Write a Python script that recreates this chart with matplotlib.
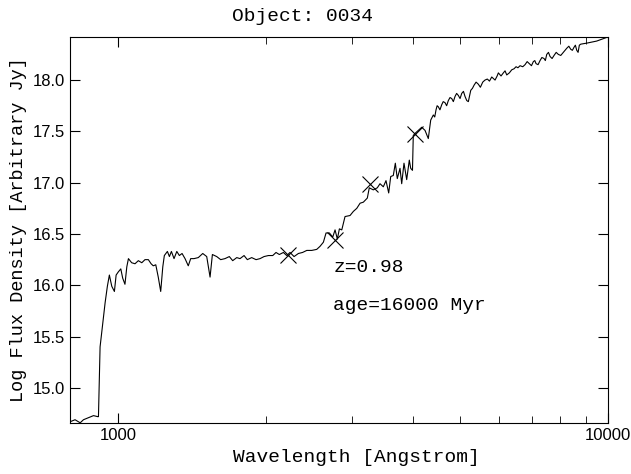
import numpy as np
import matplotlib.pyplot as plt
from matplotlib.ticker import FixedLocator, NullFormatter, FixedFormatter

# spectrum: wavelength [A], log flux density
wave = [798, 817, 837, 850, 870, 891, 909, 912, 919, 929, 941, 951, 960, 971, 983, 991,
        1001, 1013, 1022, 1033, 1042, 1050, 1066, 1083, 1100, 1118, 1135, 1153, 1168, 1180,
        1194, 1208, 1222, 1234, 1243, 1261, 1273, 1285, 1301, 1318, 1334, 1351, 1370, 1391,
        1407, 1429, 1458, 1489, 1517, 1541, 1558, 1590, 1620, 1653, 1687, 1714, 1747, 1774,
        1808, 1836, 1874, 1913, 1949, 1986, 2027, 2069, 2101, 2134, 2175, 2210, 2244, 2287,
        2334, 2380, 2428, 2485, 2544, 2584, 2625, 2658, 2700, 2743, 2773, 2803, 2830, 2862,
        2906, 2975, 3022, 3071, 3119, 3167, 3227, 3257, 3319, 3382, 3425, 3479, 3523, 3568,
        3602, 3646, 3681, 3715, 3763, 3793, 3834, 3883, 3931, 3957, 3990, 4005, 4038, 4101,
        4167, 4232, 4298, 4347, 4401, 4457, 4505, 4578, 4649, 4722, 4798, 4873, 4950, 5029,
        5108, 5188, 5247, 5329, 5437, 5551, 5672, 5791, 5882, 5974, 6116, 6214, 6362, 6492,
        6615, 6772, 6910, 7042, 7132, 7267, 7405, 7499, 7617, 7761, 7920, 8108, 8239, 8395,
        8526, 8635, 8741, 9051, 9483, 10000]
logflux = [14.67, 14.69, 14.66, 14.69, 14.71, 14.73, 14.72, 14.72, 15.40, 15.60, 15.83, 15.99,
           16.10, 15.99, 15.94, 16.10, 16.13, 16.16, 16.07, 16.01, 16.18, 16.26, 16.22, 16.21,
           16.24, 16.22, 16.25, 16.25, 16.21, 16.19, 16.20, 16.08, 15.94, 16.18, 16.29, 16.33,
           16.28, 16.33, 16.26, 16.33, 16.29, 16.31, 16.26, 16.19, 16.26, 16.26, 16.27, 16.31,
           16.28, 16.08, 16.30, 16.28, 16.25, 16.26, 16.28, 16.24, 16.27, 16.26, 16.29, 16.25,
           16.27, 16.25, 16.26, 16.28, 16.29, 16.29, 16.32, 16.30, 16.32, 16.29, 16.32, 16.28,
           16.31, 16.32, 16.34, 16.34, 16.35, 16.38, 16.42, 16.51, 16.51, 16.47, 16.54, 16.45,
           16.55, 16.54, 16.67, 16.68, 16.72, 16.75, 16.80, 16.81, 16.85, 16.95, 16.93, 16.95,
           16.99, 16.96, 17.02, 16.90, 17.06, 17.07, 17.19, 17.04, 17.14, 16.99, 17.19, 17.03,
           17.22, 17.14, 17.12, 17.46, 17.48, 17.51, 17.54, 17.51, 17.43, 17.61, 17.66, 17.71,
           17.74, 17.76, 17.78, 17.80, 17.82, 17.84, 17.85, 17.87, 17.84, 17.79, 17.90, 17.95,
           17.96, 17.98, 18.01, 18.03, 18.00, 18.07, 18.07, 18.05, 18.10, 18.13, 18.14, 18.15,
           18.16, 18.18, 18.16, 18.19, 18.21, 18.25, 18.23, 18.24, 18.25, 18.27, 18.31, 18.30,
           18.32, 18.29, 18.34, 18.36, 18.38, 18.42]

# extra wiggles of the noisy red part
wave_noise = [4430, 4480, 4540, 4610, 4685, 4760, 4835, 4910, 4990, 5070, 5150, 5290, 5380,
              5490, 5610, 5730, 5940, 6050, 6165, 6290, 6430, 6550, 6700, 6840, 6980, 7090,
              7200, 7330, 7450, 7560, 7690, 7840, 8010, 8170, 8320, 8460, 8580, 8690, 8800]
flux_noise = [17.64, 17.75, 17.71, 17.79, 17.75, 17.83, 17.79, 17.87, 17.82, 17.89, 17.80,
              17.92, 17.98, 17.93, 18.00, 17.99, 18.04, 18.04, 18.09, 18.07, 18.11, 18.12,
              18.13, 18.18, 18.14, 18.19, 18.15, 18.22, 18.19, 18.27, 18.21, 18.27, 18.24,
              18.29, 18.33, 18.29, 18.34, 18.27, 18.35]

# photometry points (crosses)
phot_wave = [2223, 2773, 3267, 4036]
phot_flux = [16.30, 16.44, 16.99, 17.47]

obj_name = "0034"
redshift = 0.98
age = 16000

mono = "Liberation Mono"
sans = "Liberation Sans"

spec = sorted(zip(wave + wave_noise, logflux + flux_noise))
spec_w = [p[0] for p in spec]
spec_f = [p[1] for p in spec]

fig = plt.figure(figsize=(6.31, 4.74), dpi=100)
ax = fig.add_axes([0.111, 0.108, 0.8525, 0.814])

ax.plot(spec_w, spec_f, color="black", lw=0.8)
ax.plot(phot_wave, phot_flux, ls="none", marker="x", ms=12, mew=0.8, color="black")

ax.set_xscale("log")
ax.set_xlim(798, 10000)
ax.set_ylim(14.66, 18.42)

ax.xaxis.set_major_locator(FixedLocator([1000, 10000]))
ax.xaxis.set_major_formatter(FixedFormatter(["1000", "10000"]))
ax.xaxis.set_minor_locator(FixedLocator([2000, 3000, 4000, 5000, 6000, 7000, 8000, 9000]))
ax.xaxis.set_minor_formatter(NullFormatter())
ax.set_yticks([15.0, 15.5, 16.0, 16.5, 17.0, 17.5, 18.0])

ax.tick_params(which="both", direction="in", top=True, right=True, labelsize=12)
ax.tick_params(which="major", length=7)
ax.tick_params(which="minor", length=5)
for lab in ax.get_xticklabels() + ax.get_yticklabels():
    lab.set_fontfamily(sans)

ax.set_xlabel("Wavelength [Angstrom]", fontfamily=mono, fontsize=14, va="center")
ax.xaxis.set_label_coords(0.533, -0.091)
ax.set_ylabel("Log Flux Density [Arbitrary Jy]", fontfamily=mono, fontsize=13.4)
fig.text(0.480, 0.965, "Object: " + obj_name, fontfamily=mono, fontsize=14,
         ha="center", va="center")

ax.text(2748, 16.17, "z=%.2f" % redshift, fontfamily=mono, fontsize=14, va="center")
ax.text(2748, 15.80, "age=%d Myr" % age, fontfamily=mono, fontsize=14, va="center")

fig.savefig("out.png", dpi=100)
